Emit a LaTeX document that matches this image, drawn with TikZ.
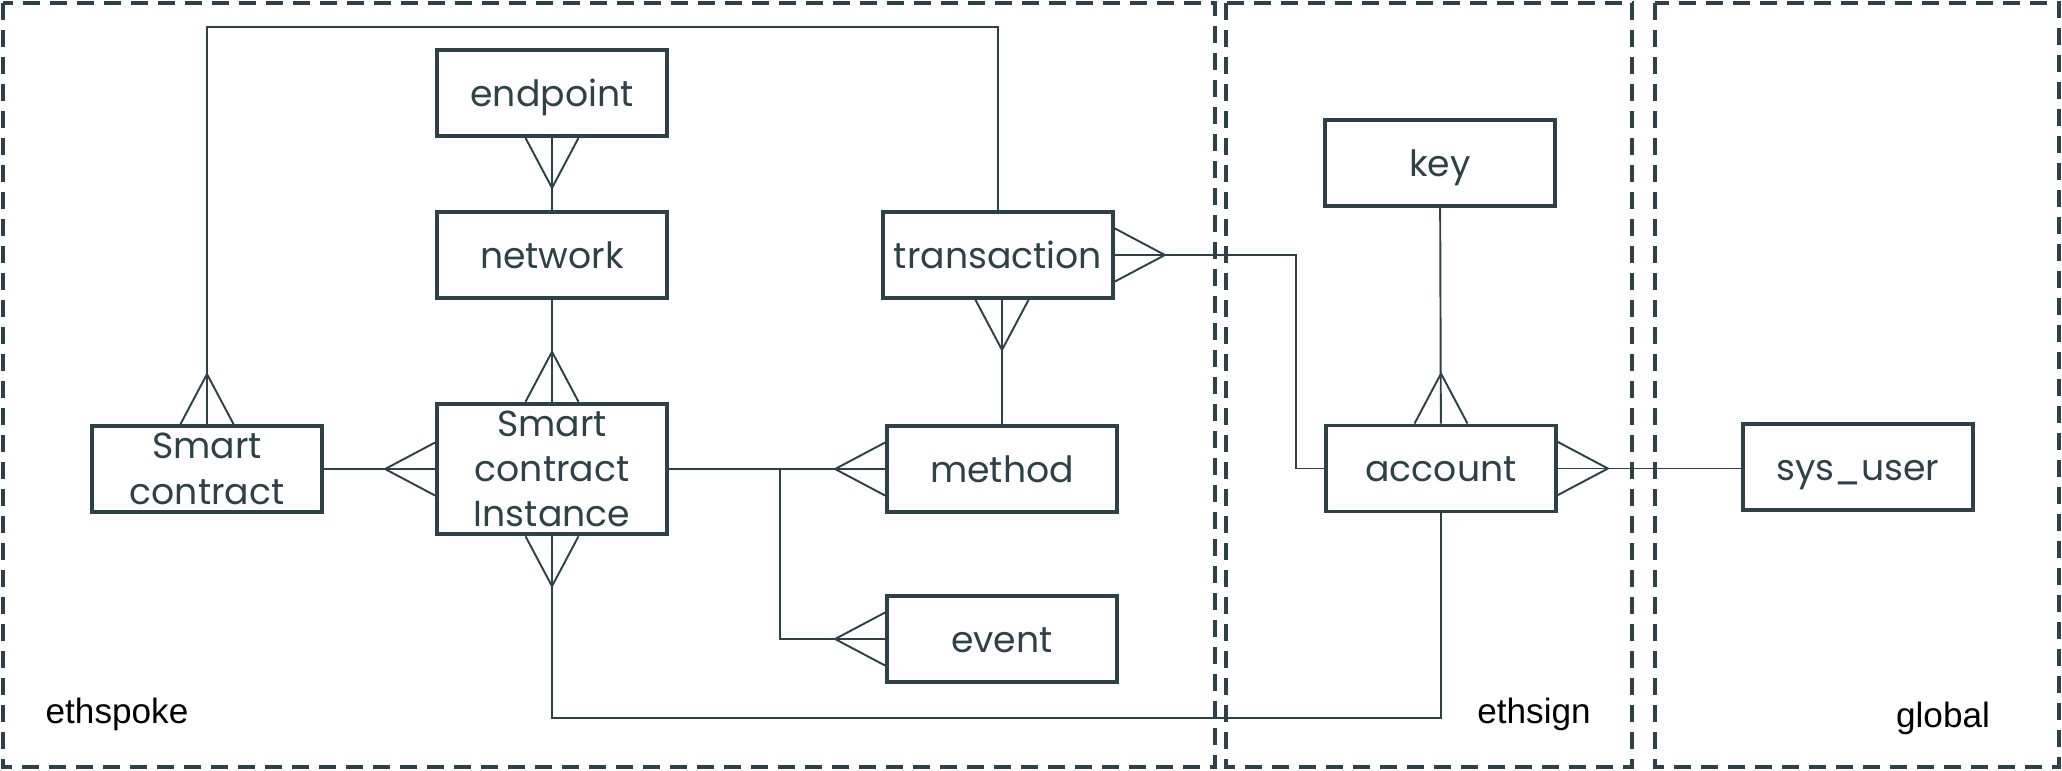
\documentclass[tikz,border=0pt]{standalone}
\usepackage{fontspec}
\setmainfont{Poppins}
\newfontfamily\zonefont{Liberation Sans}
\usepackage{tikz}
\usetikzlibrary{positioning}

\definecolor{slate}{HTML}{2E4146}

\begin{document}
\begin{tikzpicture}[
    node distance=0.75cm and 0.9cm,
    every node/.style={font=\fontsize{10.3}{12.9}\selectfont, text=slate},
    entitybase/.style={rectangle, draw=slate, line width=1.1pt, minimum width=2.3cm, minimum height=0.86cm, inner sep=2pt, align=center},
    entity/.style={entitybase, text height=8.6pt, text depth=1pt},
    tallentity/.style={entitybase},
    link/.style={draw=slate, line width=0.55pt},
    zone/.style={draw=slate, line width=1.15pt, dash pattern=on 0.17cm off 0.1cm},
    zonelabel/.style={font=\zonefont\fontsize{10}{12}\selectfont, text=black},
    crow/.pic={\draw[link] (-0.265,0) -- (0,0.5) -- (0.265,0);}
]

\useasboundingbox (0,0) rectangle (20.62,-7.70);

%% ---- Zones ----
\draw[zone] (0.03,-0.03) rectangle (12.15,-7.67);
\draw[zone] (12.26,-0.03) rectangle (16.32,-7.67);
\draw[zone] (16.55,-0.03) rectangle (20.59,-7.67);

\node[zonelabel] (lspoke) at (1.17,-7.14) {ethspoke};
\node[zonelabel] (lsign) at (15.34,-7.14) {ethsign};
\node[zonelabel] (lglobal) at (19.43,-7.18) {global};

%% ---- ethspoke entities ----
\node[entity] (endpoint) at (5.52,-0.93) {endpoint};
\node[entity] (network) at (5.52,-2.55) {network};
\node[tallentity, minimum height=1.28cm] (sci) at (5.52,-4.69) {Smart\\contract\\Instance};
\node[tallentity] (contract) at (2.07,-4.69) {Smart\\contract};
\node[entity] (transaction) at (9.98,-2.55) {transaction};
\node[entity] (method) at (10.02,-4.69) {method};
\node[entity] (event) at (10.02,-6.39) {event};

%% ---- ethsign entities ----
\node[entity] (key) at (14.40,-1.63) {key};
\node[entity] (account) at (14.41,-4.685) {account};

%% ---- global entities ----
\node[entity] (sysuser) at (18.58,-4.67) {sys\_user};

%% ---- bend points ----
\coordinate (toprail) at (0,-0.27);
\coordinate (botrail) at (0,-7.18);
\coordinate (split) at (7.80,-4.69);
\coordinate (txbend) at (12.96,-2.55);

%% ---- Connectors ----
\draw[link] (endpoint) -- (network);
\draw[link] (network) -- (sci);
\draw[link] (contract) -- (sci);
\draw[link] (sci) -- (method);
\draw[link] (split) |- (event.west);
\draw[link] (transaction.north) -- (transaction.north |- toprail) -| (contract.north);
\draw[link] (method.north) -- (method.north |- transaction.south);
\draw[link] (transaction.east) -- (txbend) |- (account.west);
\draw[link] (key) -- (account);
\draw[link] (account.east) -- (account.east -| sysuser.west);
\draw[link] (account.south) -- (account.south |- botrail) -| (sci.south);

%% ---- Crow's feet (many side) ----
\pic[rotate=180] at (endpoint.south) {crow};
\pic at (sci.north) {crow};
\pic[rotate=90] at (sci.west) {crow};
\pic[rotate=180] at (sci.south) {crow};
\pic at (contract.north) {crow};
\pic[rotate=180] at (method.north |- transaction.south) {crow};
\pic[rotate=-90] at (transaction.east) {crow};
\pic[rotate=90] at (method.west) {crow};
\pic[rotate=90] at (event.west) {crow};
\pic at (account.north) {crow};
\pic[rotate=-90] at (account.east) {crow};

\end{tikzpicture}
\end{document}
